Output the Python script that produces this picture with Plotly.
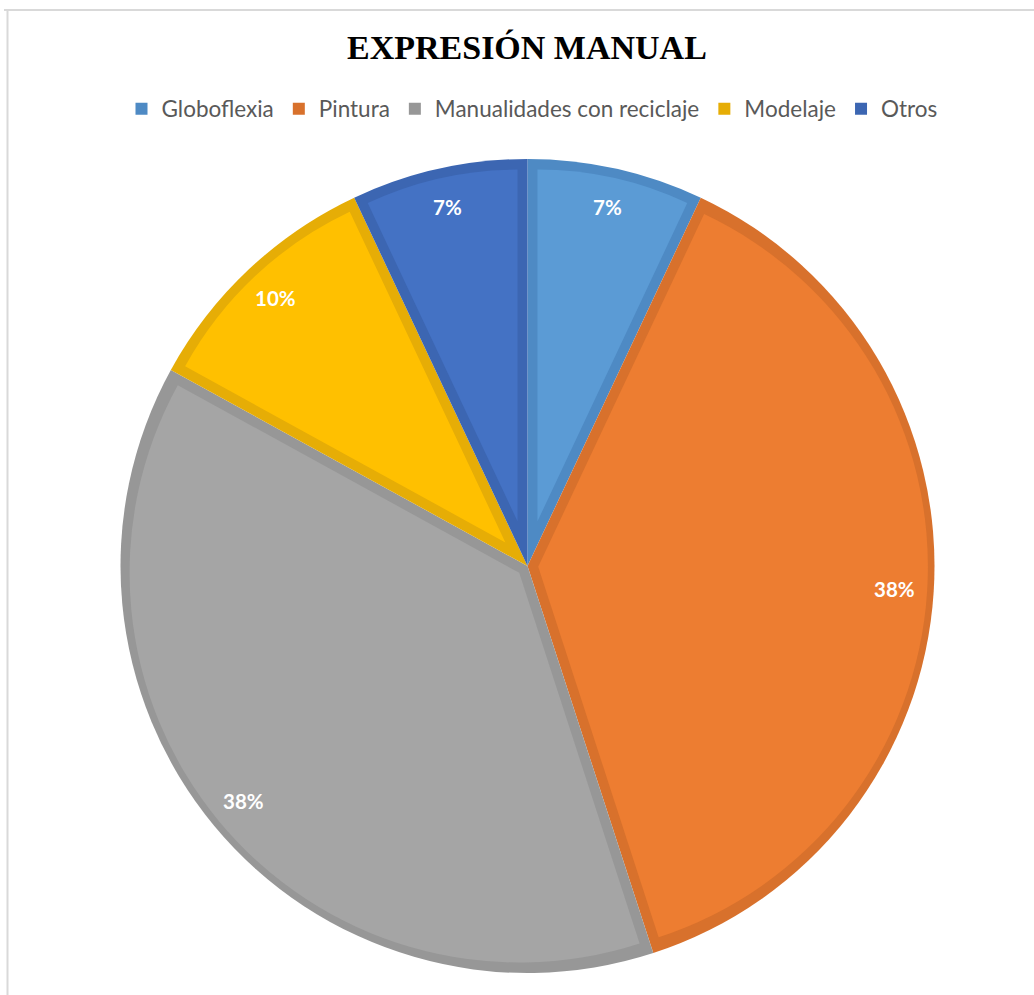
import math
import plotly.graph_objects as go

# Activity shares (%)
categories = ["Globoflexia", "Pintura", "Manualidades con reciclaje", "Modelaje", "Otros"]
values = [7, 38, 38, 10, 7]

fill_colors = ["#5B9BD5", "#ED7D31", "#A5A5A5", "#FFC000", "#4472C4"]
edge_colors = ["#4E8AC4", "#D8712C", "#979797", "#E6AD06", "#3C66B2"]

W, H = 1034, 995
cx, cy = 527.5, 566.0      # pie centre in pixels
R = 407.0                  # outer radius in pixels
rim = 10.0                 # width of the darker rim inside each slice
label_r = 368.0            # radius of the percentage labels

TRANSPARENT = "rgba(0,0,0,0)"


def domain_for(half):
    """Square domain (paper units) of half-size `half` px around the centre."""
    return dict(
        x=[(cx - half) / W, (cx + half) / W],
        y=[1 - (cy + half) / H, 1 - (cy - half) / H],
    )


total = sum(values)

# Base layer: full pie in the rim colours
fig = go.Figure(
    go.Pie(
        labels=categories,
        values=values,
        sort=False,
        direction="clockwise",
        rotation=0,
        textinfo="none",
        hoverinfo="label+percent",
        marker=dict(colors=edge_colors, line=dict(width=0)),
        domain=domain_for(R),
        showlegend=True,
    )
)

# Inner fill of each slice: the slice is pulled along its bisector so that
# both straight edges sit `rim` px inside, and its radius is reduced to keep
# a rim along the outer arc as well.
for i, v in enumerate(values):
    half_angle = v / total * math.pi
    d = rim / math.sin(half_angle)
    r_i = R - rim - d * (1 + math.cos(half_angle)) / 2
    pull = [0.0] * len(values)
    pull[i] = d / r_i
    colors = [TRANSPARENT] * len(values)
    colors[i] = fill_colors[i]
    fig.add_trace(
        go.Pie(
            labels=categories,
            values=values,
            sort=False,
            direction="clockwise",
            rotation=0,
            textinfo="none",
            hoverinfo="skip",
            pull=pull,
            marker=dict(colors=colors, line=dict(width=0)),
            domain=domain_for(r_i + d),
            showlegend=False,
        )
    )

# Percentage labels at the middle angle of each slice
annotations = []
start = 0.0
for v in values:
    mid = (start + v / 2) / total * 2 * math.pi
    start += v
    px = cx + label_r * math.sin(mid)
    py = cy - label_r * math.cos(mid)
    annotations.append(
        dict(
            x=px / W, y=1 - py / H, xref="paper", yref="paper",
            text=f"<b>{round(v / total * 100)}%</b>",
            showarrow=False,
            font=dict(family="Lato", size=20.5, color="white"),
            xanchor="center", yanchor="middle",
        )
    )

# Title
annotations.append(
    dict(
        x=527 / W, y=1 - 48 / H, xref="paper", yref="paper",
        text="<b>EXPRESIÓN MANUAL</b>",
        showarrow=False,
        font=dict(family="Liberation Serif", size=34, color="black"),
        xanchor="center", yanchor="middle",
    )
)

# Light frame along the top and left edges
frame = dict(color="#D9D9D9", width=2)
shapes = [
    dict(type="line", xref="paper", yref="paper",
         x0=4 / W, y0=1 - 10 / H, x1=1, y1=1 - 10 / H, line=frame),
    dict(type="line", xref="paper", yref="paper",
         x0=7.5 / W, y0=1 - 10 / H, x1=7.5 / W, y1=0, line=frame),
]

fig.update_layout(
    width=W,
    height=H,
    margin=dict(l=0, r=0, t=0, b=0),
    paper_bgcolor="white",
    plot_bgcolor="white",
    showlegend=True,
    legend=dict(
        orientation="h",
        x=532 / W, xanchor="center",
        y=1 - 109 / H, yanchor="middle",
        font=dict(family="Lato", size=22.5, color="#595959"),
        traceorder="normal",
        itemwidth=30,
    ),
    annotations=annotations,
    shapes=shapes,
)

fig.write_html("out.html")
